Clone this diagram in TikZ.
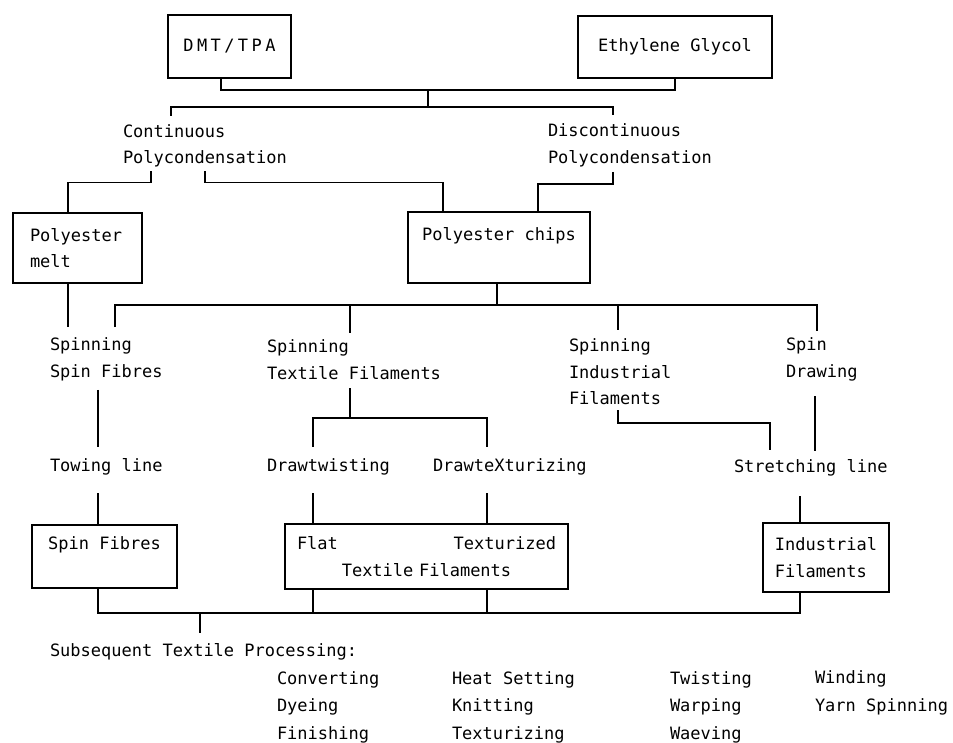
\documentclass[tikz,border=0pt]{standalone}
\usepackage{fontspec}
\newfontfamily\chartfont{DejaVu Sans Mono}
\usetikzlibrary{calc}

\tikzset{
	every node/.style={font=\chartfont\fontsize{17}{26.5}\selectfont, outer sep=0pt},
	box/.style={draw, line width=1.9pt, anchor=north west, inner ysep=0pt},
	txt/.style={anchor=west, inner sep=0pt, align=left},
	proc/.style={txt, font=\chartfont\fontsize{17}{27.5}\selectfont},
	link/.style={line width=1.9pt}
}

\begin{document}
\begin{tikzpicture}[x=1pt,y=1pt,yscale=-1,xscale=1]
	\useasboundingbox (0,0) rectangle (953,743);

	\node [box, minimum width=123, minimum height=63] (dmt) at (168,15) {\addfontfeature{LetterSpace=20}DMT/TPA};
	\node [box, minimum width=194, minimum height=62] (eg) at (578,16) {Ethylene Glycol};
	\node [txt] (cont) at (123,146) {Continuous\\Polycondensation};
	\node [txt] (discont) at (548,145.5) {Discontinuous\\Polycondensation};
	\node [box, minimum width=129, minimum height=70, text width=95, inner xsep=17, align=left] (melt) at (13,213) {Polyester\\melt};
	\node [box, minimum width=182, minimum height=71, align=center] (chips) at (408,212) {Polyester chips\\\mbox{}};

	\node [txt] (ssf) at (50,359.5) {Spinning\\Spin Fibres};
	\node [txt] (stf) at (267,359.5) {Spinning\\Textile Filaments};
	\node [txt] (sif) at (569,372) {Spinning\\Industrial\\Filaments};
	\node [txt] (sd) at (786,359.5) {Spin\\Drawing};
	\node [txt] (tow) at (50,467) {Towing line};
	\node [txt] (dtw) at (267,467) {Drawtwisting};
	\node [txt] (dtx) at (433,467) {DrawteXturizing};
	\node [txt] (str) at (734,468) {Stretching line};

	\node [box, minimum width=145, minimum height=63, align=center] (sfbox) at (32,525) {Spin Fibres\\\mbox{}};
	\node [box, minimum width=283, minimum height=65, text width=259, inner xsep=12, align=center] (tfbox) at (285,524) {\makebox[\linewidth]{Flat\hfill Texturized}\\Textile Filaments};
	\node [box, minimum width=126, minimum height=69, align=left] (ifbox) at (763,523) {Industrial\\Filaments};

	\node [txt] (stp) at (50,652) {Subsequent Textile Processing:};
	\node [proc] (p1) at (277,707) {Converting\\Dyeing\\Finishing};
	\node [proc] (p2) at (452,707) {Heat Setting\\Knitting\\Texturizing};
	\node [proc] (p3) at (670,707) {Twisting\\Warping\\Waeving};
	\node [proc] (p4) at (815,693) {Winding\\Yarn Spinning};

	\coordinate (feed) at (428,90);
	\coordinate (poly) at (428,107);
	\draw [link] ($(dmt.south)+(-8.5,0)$) |- (feed) -| (eg.south);
	\draw [link] (feed) -- (poly);
	\draw [link] ($(cont.north west)+(48,-9)$) |- (poly) -| ($(discont.north west)+(65,-9)$);
	\draw [link] ($(cont.south west)+(28,4)$) -- ++(0,11) -| ($(melt.north)+(-9.5,0)$);
	\draw [link] ($(cont.south west)+(82,4)$) -- ++(0,11) -| ($(chips.north)+(-56,0)$);
	\draw [link] ($(discont.south west)+(65,5)$) -- ++(0,12) -| ($(chips.north)+(39,0)$);

	\draw [link] ($(melt.south)+(-9.5,0)$) -- ++(0,44);
	\coordinate (spin) at ($(chips.south)+(-2,22)$);
	\draw [link] ($(chips.south)+(-2,0)$) -- (spin);
	\draw [link] ($(ssf.north west)+(65,-11)$) |- (spin) -| ($(sd.north west)+(31,-7)$);
	\draw [link] ($(stf.north west)+(83,-7)$) |- (spin);
	\draw [link] ($(sif.north west)+(49,-9)$) |- (spin);

	\draw [link] ($(ssf.south west)+(48,9)$) -- ($(tow.north west)+(48,-12)$);
	\draw [link] ($(tow.south west)+(48,18)$) -- ($(sfbox.north)+(-6.5,0)$);
	\draw [link] ($(stf.south west)+(83,9)$) -- ++(0,30) coordinate (split);
	\draw [link] ($(dtw.north west)+(46,-12)$) |- (split) -| ($(dtx.north west)+(54,-12)$);
	\draw [link] ($(dtw.south west)+(46,18)$) -- ($(tfbox.north west)+(28,0)$);
	\draw [link] ($(dtx.south west)+(54,18)$) -- ($(tfbox.north west)+(202,0)$);
	\draw [link] ($(sif.south west)+(49,5)$) -- ++(0,13) -| ($(str.north west)+(36,-10)$);
	\draw [link] ($(sd.south west)+(29,15)$) -- ++(0,55);
	\draw [link] ($(str.south west)+(66,20)$) -- ($(ifbox.north west)+(37,0)$);

	\coordinate (sub) at ($(sfbox.south)+(95.5,25)$);
	\draw [link] ($(sfbox.south)+(-6.5,0)$) |- (sub) -| ($(ifbox.south west)+(37,0)$);
	\draw [link] ($(tfbox.south west)+(28,0)$) |- (sub);
	\draw [link] ($(tfbox.south west)+(202,0)$) |- (sub);
	\draw [link] (sub) -- ++(0,20);
\end{tikzpicture}
\end{document}
